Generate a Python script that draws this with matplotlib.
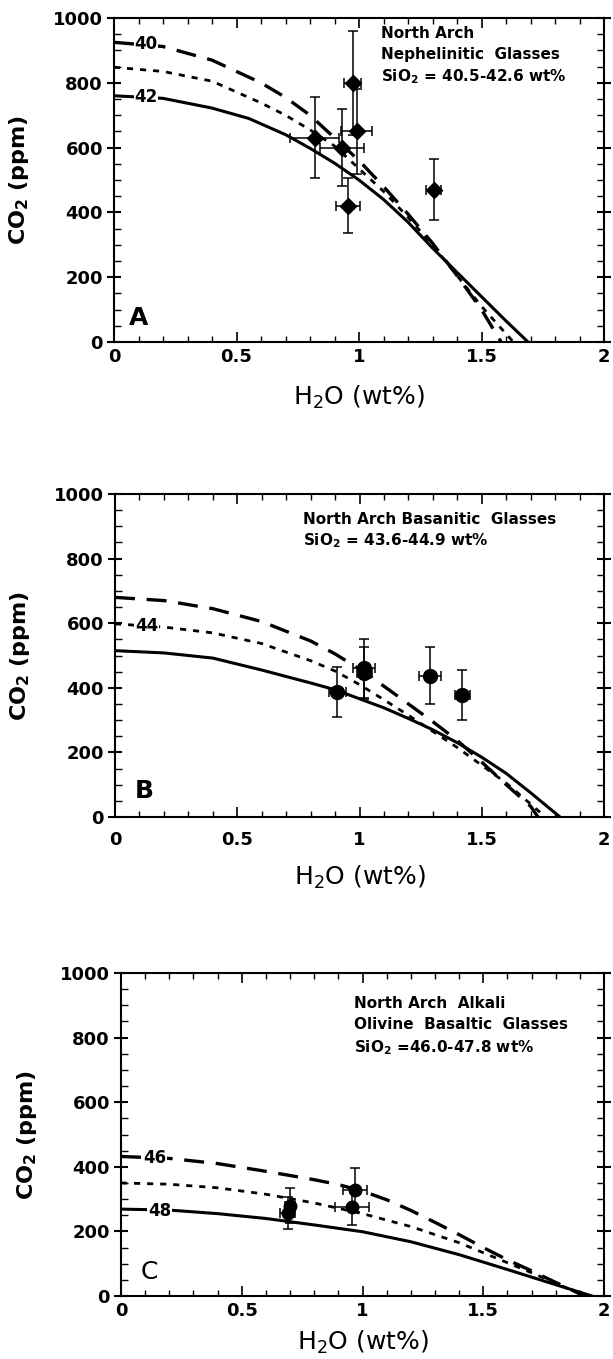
import matplotlib
matplotlib.use("Agg")
import matplotlib.pyplot as plt
from matplotlib.ticker import MultipleLocator

plt.rcParams['font.family'] = ['DejaVu Sans']
plt.rcParams['mathtext.default'] = 'regular'

# ---- panel A: nephelinitic glasses ----
a_x40 = [0, 0.2, 0.4, 0.6, 0.7, 0.8, 0.9, 1.0, 1.1, 1.2, 1.3, 1.4, 1.5, 1.58]
a_y40 = [925, 912, 870, 800, 755, 700, 630, 560, 480, 395, 305, 205, 100, 0]
a_x41 = [0, 0.2, 0.4, 0.6, 0.7, 0.8, 0.9, 1.0, 1.1, 1.2, 1.3, 1.4, 1.5, 1.63]
a_y41 = [848, 835, 805, 738, 700, 655, 605, 535, 465, 385, 300, 205, 110, 0]
a_x42 = [0, 0.2, 0.4, 0.55, 0.7, 0.8, 0.9, 1.0, 1.1, 1.2, 1.3, 1.4, 1.5, 1.6, 1.69]
a_y42 = [760, 752, 722, 690, 640, 598, 552, 500, 440, 370, 290, 215, 140, 65, 0]
a_px = [0.82, 0.93, 0.975, 0.99, 0.955, 1.305]
a_py = [630, 600, 800, 650, 420, 470]
a_pxe = [0.10, 0.09, 0.035, 0.063, 0.048, 0.03]
a_pye = [125, 120, 160, 130, 85, 95]

# ---- panel B: basanitic glasses ----
b_xd = [0, 0.2, 0.4, 0.6, 0.8, 0.9, 1.0, 1.1, 1.2, 1.3, 1.4, 1.5, 1.6, 1.7, 1.73]
b_yd = [680, 670, 645, 605, 545, 505, 458, 405, 350, 295, 237, 170, 100, 33, 0]
b_x44 = [0, 0.2, 0.4, 0.6, 0.8, 0.9, 1.0, 1.1, 1.2, 1.3, 1.4, 1.5, 1.6, 1.7, 1.76]
b_y44 = [598, 588, 570, 537, 484, 452, 410, 363, 315, 265, 215, 160, 105, 40, 0]
b_xs = [0, 0.2, 0.4, 0.6, 0.8, 0.9, 1.0, 1.1, 1.2, 1.3, 1.4, 1.5, 1.6, 1.7, 1.82]
b_ys = [515, 508, 492, 455, 415, 394, 366, 338, 305, 270, 230, 185, 135, 75, 0]
b_px = [0.91, 1.02, 1.02, 1.29, 1.42]
b_py = [388, 460, 445, 438, 378]
b_pxe = [0.035, 0.045, 0.03, 0.045, 0.03]
b_pye = [77, 92, 80, 88, 77]

# ---- panel C: alkali olivine basaltic glasses ----
c_x46 = [0, 0.2, 0.4, 0.6, 0.8, 0.9, 1.0, 1.1, 1.2, 1.3, 1.4, 1.5, 1.6, 1.7, 1.8, 1.92]
c_y46 = [432, 426, 410, 386, 360, 345, 325, 298, 265, 228, 190, 150, 112, 78, 42, 0]
c_x47 = [0, 0.2, 0.4, 0.6, 0.8, 1.0, 1.2, 1.4, 1.6, 1.7, 1.8, 1.92]
c_y47 = [350, 346, 335, 315, 288, 255, 215, 165, 103, 72, 40, 0]
c_x48 = [0, 0.2, 0.4, 0.6, 0.8, 1.0, 1.2, 1.4, 1.6, 1.8, 1.95]
c_y48 = [269, 266, 255, 240, 220, 199, 168, 128, 82, 35, 0]
c_px = [0.70, 0.69, 0.97, 0.955]
c_py = [280, 258, 329, 277]
c_pxe = [0.02, 0.03, 0.05, 0.07]
c_pye = [55, 50, 68, 57]

W, H = 613, 1359
fig = plt.figure(figsize=(W / 100, H / 100), dpi=100)


def add_panel(left, top, right, bottom):
    return fig.add_axes([left / W, 1 - bottom / H, (right - left) / W, (bottom - top) / H])


def style(ax, xpad, xlab_y):
    ax.set_xlim(0, 2)
    ax.set_ylim(0, 1000)
    ax.xaxis.set_minor_locator(MultipleLocator(0.1))
    ax.yaxis.set_major_locator(MultipleLocator(200))
    ax.yaxis.set_minor_locator(MultipleLocator(50))
    ax.set_xticks([0, 0.5, 1, 1.5, 2])
    ax.set_xticklabels(['0', '0.5', '1', '1.5', '2'])
    ax.tick_params(axis='y', which='major', direction='inout', length=10, width=1.5,
                   left=True, right=True, labelsize=13, pad=3)
    ax.tick_params(axis='y', which='minor', direction='in', length=5, width=1,
                   left=True, right=True)
    ax.tick_params(axis='x', which='major', direction='in', length=7, width=1.2,
                   top=True, bottom=True, labelsize=13, pad=xpad)
    ax.tick_params(axis='x', which='minor', direction='in', length=4, width=1,
                   top=True, bottom=True)
    for lab in ax.get_xticklabels() + ax.get_yticklabels():
        lab.set_fontweight('bold')
    for s in ax.spines.values():
        s.set_linewidth(1.5)
    ax.set_ylabel('CO$_2$ (ppm)', fontsize=16, fontweight='bold')
    ax.yaxis.set_label_coords(-0.17, 0.5)
    ax.set_xlabel('H$_2$O (wt%)', fontsize=18)
    ax.xaxis.set_label_coords(0.5, xlab_y)


def curves(ax, xd, yd, xt, yt, xs, ys):
    ax.plot(xd, yd, color='black', lw=2.4, dashes=(6, 3.5))
    ax.plot(xt, yt, color='black', lw=2.0, dashes=(2.2, 2.5))
    ax.plot(xs, ys, color='black', lw=2.2)


def points(ax, px, py, pxe, pye, marker, ms):
    ax.errorbar(px, py, xerr=pxe, yerr=pye, fmt=marker, color='black', ms=ms,
                ecolor='black', elinewidth=1.1, capsize=3.5, capthick=1.1)


def curve_label(ax, x, y, txt):
    ax.text(x, y, txt, fontsize=12, fontweight='bold', ha='center', va='center',
            bbox=dict(facecolor='white', edgecolor='none', pad=0.5), zorder=5)


# panel A
ax = add_panel(114, 18, 604, 342)
style(ax, 4, -0.13)
curves(ax, a_x40, a_y40, a_x41, a_y41, a_x42, a_y42)
points(ax, a_px, a_py, a_pxe, a_pye, 'D', 8)
curve_label(ax, 0.13, a_y40[0] - 5, '40')
curve_label(ax, 0.13, a_y42[0] - 5, '42')
ax.text(1.09, 975, 'North Arch\nNephelinitic  Glasses\nSiO$_2$ = 40.5-42.6 wt%',
        fontsize=11, fontweight='bold', va='top', ha='left', linespacing=1.45)
ax.text(0.06, 75, 'A', fontsize=18, fontweight='bold', va='center')

# panel B
ax = add_panel(115, 494, 604, 817)
style(ax, 10, -0.145)
curves(ax, b_xd, b_yd, b_x44, b_y44, b_xs, b_ys)
points(ax, b_px, b_py, b_pxe, b_pye, 'o', 10)
curve_label(ax, 0.13, b_y44[0] - 8, '44')
ax.text(0.77, 945, 'North Arch Basanitic  Glasses\nSiO$_2$ = 43.6-44.9 wt%',
        fontsize=11, fontweight='bold', va='top', ha='left', linespacing=1.35)
ax.text(0.08, 82, 'B', fontsize=18, fontweight='bold', va='center')

# panel C
ax = add_panel(121, 973, 604, 1296)
style(ax, 4, -0.1)
curves(ax, c_x46, c_y46, c_x47, c_y47, c_x48, c_y48)
points(ax, c_px, c_py, c_pxe, c_pye, 'o', 9)
curve_label(ax, 0.14, c_y46[0] - 5, '46')
curve_label(ax, 0.16, c_y48[0] - 5, '48')
ax.text(0.965, 928, 'North Arch  Alkali\nOlivine  Basaltic  Glasses\nSiO$_2$ =46.0-47.8 wt%',
        fontsize=11, fontweight='bold', va='top', ha='left', linespacing=1.45)
ax.text(0.08, 75, 'C', fontsize=18, va='center')

fig.savefig('out.png', dpi=100)
